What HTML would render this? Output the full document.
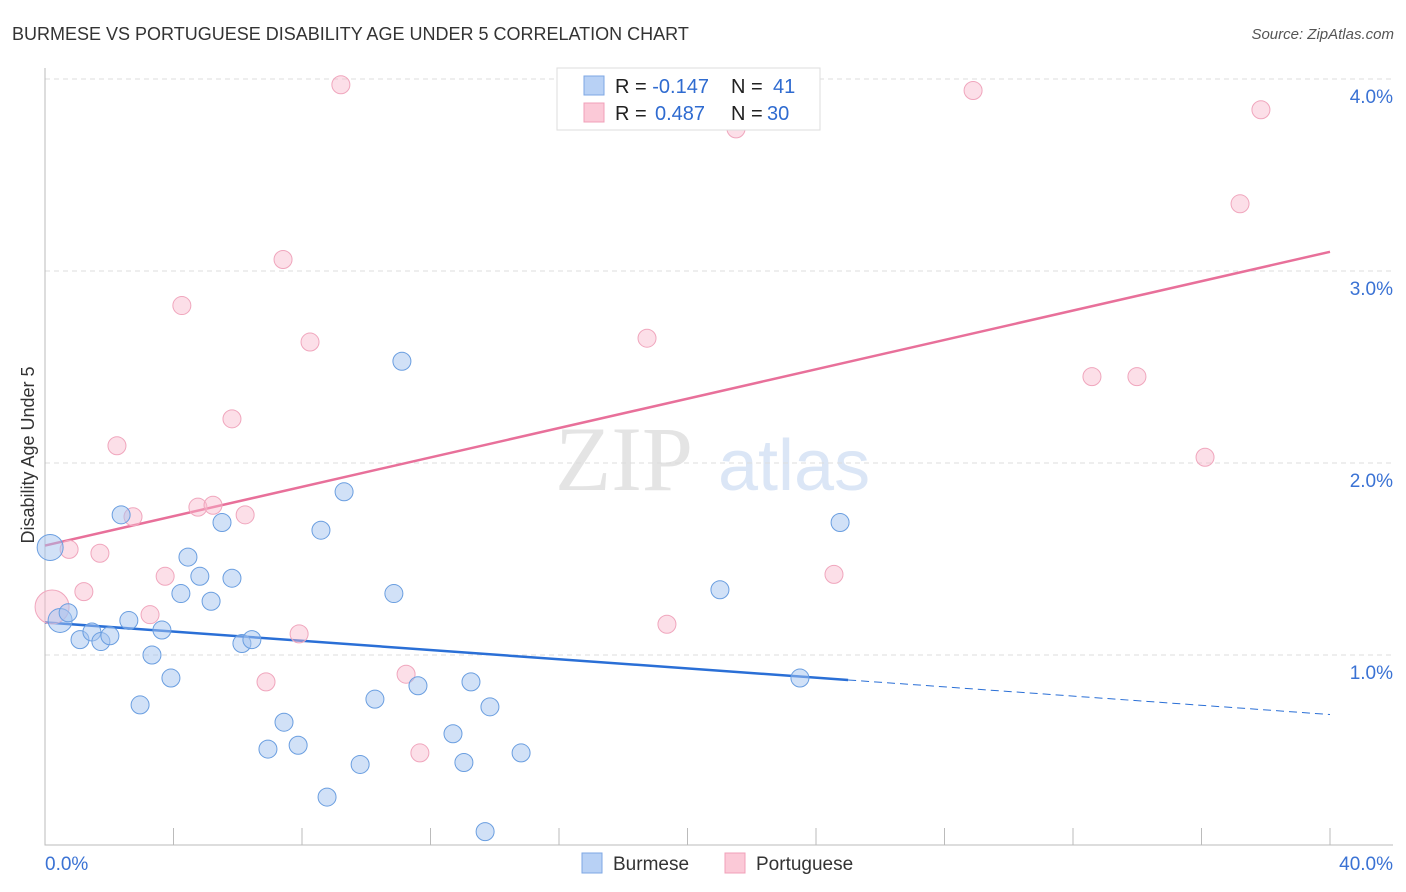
<!DOCTYPE html>
<html><head><meta charset="utf-8"><style>
body{margin:0;background:#fff;font-family:"Liberation Sans",sans-serif;}
svg{display:block}
</style></head><body>
<svg id="chart" width="1406" height="892">
<text x="12" y="40" font-size="18" fill="#333">BURMESE VS PORTUGUESE DISABILITY AGE UNDER 5 CORRELATION CHART</text>
<text x="1394" y="39" font-size="15" fill="#555" font-style="italic" text-anchor="end">Source: ZipAtlas.com</text>
<text x="555" y="490" font-size="92" fill="#e4e4e4" font-family="Liberation Serif,serif">ZIP</text>
<text x="718" y="490" font-size="72" fill="#dbe6f6">atlas</text>
<text transform="translate(34,455) rotate(-90)" font-size="18" fill="#333" text-anchor="middle">Disability Age Under 5</text>
<g id="grid"></g><g id="axes"></g><g id="lines"></g><g id="pts"></g>
<g>
<rect x="557" y="68" width="263" height="62" fill="#fff" stroke="#ddd"/>
<rect x="584" y="76" width="20" height="19" fill="#b8d1f5" stroke="#7ea7e4"/>
<rect x="584" y="103" width="20" height="19" fill="#fbc9d7" stroke="#f0a0b8"/>
<text x="615" y="93" font-size="20" fill="#222">R = <tspan fill="#2f6bd0">-0.147</tspan><tspan x="731">N = </tspan><tspan fill="#2f6bd0" x="773">41</tspan></text>
<text x="615" y="120" font-size="20" fill="#222">R = <tspan fill="#2f6bd0" x="655">0.487</tspan><tspan x="731">N = </tspan><tspan fill="#2f6bd0" x="767">30</tspan></text>
</g>
<g>
<rect x="582" y="853" width="20" height="20" fill="#b8d1f5" stroke="#7ea7e4"/>
<text x="613" y="870" font-size="19" fill="#333">Burmese</text>
<rect x="725" y="853" width="20" height="20" fill="#fbc9d7" stroke="#f0a0b8"/>
<text x="756" y="870" font-size="19" fill="#333">Portuguese</text>
</g>
</svg>
<script>
const yTicks=[1,2,3,4];
const xTickLabels=["0.0%","40.0%"];
const burmeseX=[0.16,0.47,0.72,1.09,1.46,1.74,2.02,2.37,2.61,2.96,3.33,3.64,3.92,4.23,4.45,4.82,5.17,5.51,5.82,6.13,6.44,6.94,7.44,7.88,8.59,9.31,9.81,10.27,10.86,11.11,11.61,12.70,13.04,13.26,13.70,13.85,14.82,21.01,23.50,24.75,8.78];
const burmeseY=[1.56,1.18,1.22,1.08,1.12,1.07,1.10,1.73,1.18,0.74,1.00,1.13,0.88,1.32,1.51,1.41,1.28,1.69,1.40,1.06,1.08,0.51,0.65,0.53,1.65,1.85,0.43,0.77,1.32,2.53,0.84,0.59,0.44,0.86,0.08,0.73,0.49,1.34,0.88,1.69,0.26];
const burmeseR=[13,12,9,9,9,9,9,9,9,9,9,9,9,9,9,9,9,9,9,9,9,9,9,9,9,9,9,9,9,9,9,9,9,9,9,9,9,9,9,9,9];
const portX=[0.22,0.75,1.21,1.71,2.24,2.74,3.27,3.74,4.26,4.76,5.23,5.82,6.23,6.88,7.41,7.91,8.25,9.21,11.24,11.67,18.74,19.36,21.51,24.56,28.89,32.59,33.99,36.11,37.20,37.85];
const portY=[1.25,1.55,1.33,1.53,2.09,1.72,1.21,1.41,2.82,1.77,1.78,2.23,1.73,0.86,3.06,1.11,2.63,3.97,0.90,0.49,2.65,1.16,3.74,1.42,3.94,2.45,2.45,2.03,3.35,3.84];
const portR=[17,9,9,9,9,9,9,9,9,9,9,9,9,9,9,9,9,9,9,9,9,9,9,9,9,9,9,9,9,9];
const burmeseTrend=[1.17,0.69];
const portTrend=[1.57,3.10];
const NS="http://www.w3.org/2000/svg";
const xs=v=>45+v*32.125, ys=v=>847-v*192;
function mk(t,a,p){const e=document.createElementNS(NS,t);for(const k in a)e.setAttribute(k,a[k]);p.appendChild(e);return e;}
const grid=document.getElementById('grid'),axes=document.getElementById('axes'),lines=document.getElementById('lines'),pts=document.getElementById('pts');
yTicks.forEach(t=>{
 const l=mk('line',{x1:45,x2:1393,y1:ys(t),y2:ys(t),stroke:'#ddd','stroke-dasharray':'5,4'},grid);
 
 
 const tx=mk('text',{x:1393,y:ys(t)+24,'text-anchor':'end','font-size':19,fill:'#3a72d4'},grid);
 tx.textContent=t.toFixed(1)+'%';
 
 
});
const ax=mk('path',{d:'M45,68V845H1393',stroke:'#bbb',fill:'none'},axes);


for(let i=1;i<=10;i++){
 const tk=mk('line',{x1:xs(i*4),x2:xs(i*4),y1:828,y2:845,stroke:'#bbb'},axes);
 
 
}
[[0,'start'],[40,'end']].forEach((p,i)=>{
 const t=mk('text',{x:i?1393:45,y:870,'text-anchor':p[1],'font-size':19,fill:'#3a72d4'},axes);
 t.textContent=xTickLabels[i];
 
 
});
const bm=burmeseTrend[0]+(burmeseTrend[1]-burmeseTrend[0])*25/40;
const b1=mk('line',{x1:xs(0),y1:ys(burmeseTrend[0]),x2:xs(25),y2:ys(bm),stroke:'#2a6fd6','stroke-width':2.5},lines);


const b2=mk('line',{x1:xs(25),y1:ys(bm),x2:xs(40),y2:ys(burmeseTrend[1]),stroke:'#2a6fd6','stroke-width':1,'stroke-dasharray':'8,5'},lines);


const p1=mk('line',{x1:xs(0),y1:ys(portTrend[0]),x2:xs(40),y2:ys(portTrend[1]),stroke:'#e8709a','stroke-width':2.5},lines);


portX.forEach((x,i)=>{
 const c=mk('circle',{cx:xs(x),cy:ys(portY[i]),r:portR[i],fill:'rgba(248,185,205,0.45)',stroke:'#f0a6bd','stroke-width':1},pts);
 
 
});
burmeseX.forEach((x,i)=>{
 const c=mk('circle',{cx:xs(x),cy:ys(burmeseY[i]),r:burmeseR[i],fill:'rgba(164,196,240,0.5)',stroke:'#6a9ee0','stroke-width':1},pts);
 
 
});
</script>
</body></html>
